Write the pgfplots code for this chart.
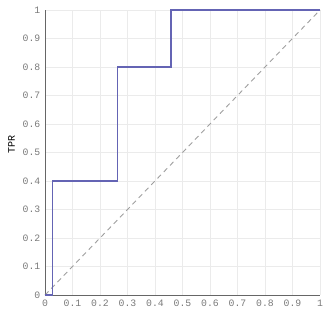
\documentclass[border=0pt]{standalone}
\usepackage{fontspec}
\setmainfont{Liberation Mono}
\newfontfamily\serifl{Liberation Serif}
\usepackage{pgfplots}
\pgfplotsset{compat=1.18}
\definecolor{roc}{HTML}{6464B4}
\definecolor{gridc}{HTML}{EBEBEB}
\definecolor{tickc}{HTML}{7A7A7A}
\begin{document}
\begin{tikzpicture}
\useasboundingbox (-45pt,-20pt) rectangle (282pt,295pt);
\begin{axis}[
  scale only axis,
  width=275pt, height=285pt,
  xmin=0, xmax=1, ymin=0, ymax=1,
  axis lines=left,
  axis line style={draw=black!60, line width=0.8pt, -},
  xtick={0,0.1,...,1}, ytick={0,0.1,...,1},
  xticklabels={0,0.1,0.2,0.3,0.4,0.5,0.6,0.7,0.8,0.9,1},
  yticklabels={0,0.1,0.2,0.3,0.4,0.5,0.6,0.7,0.8,0.9,1},
  tick style={draw=none},
  grid=major,
  major grid style={draw=gridc, line width=0.7pt},
  ticklabel style={font=\fontsize{9.8}{10}\selectfont, text=tickc},
  xticklabel style={yshift=1pt},
  yticklabel style={xshift=1pt},
  ylabel={TPR},
  ylabel style={font=\serifl\fontsize{8}{9}\selectfont, text=black!45},
  every axis y label/.style={at={(ticklabel cs:0.52)}, rotate=90, anchor=south, xshift=2pt, yshift=1pt},
  clip=false,
]
\addplot[draw=gray!75, dashed, line width=0.9pt, dash pattern=on 5pt off 4pt] coordinates {(0,0) (1,1)};
\addplot[draw=roc, line width=1.2pt, line join=miter] coordinates {
(0,0) (0.028,0) (0.028,0.4) (0.265,0.4) (0.265,0.8) (0.458,0.8) (0.458,1) (1,1)};
\end{axis}
\end{tikzpicture}
\end{document}
